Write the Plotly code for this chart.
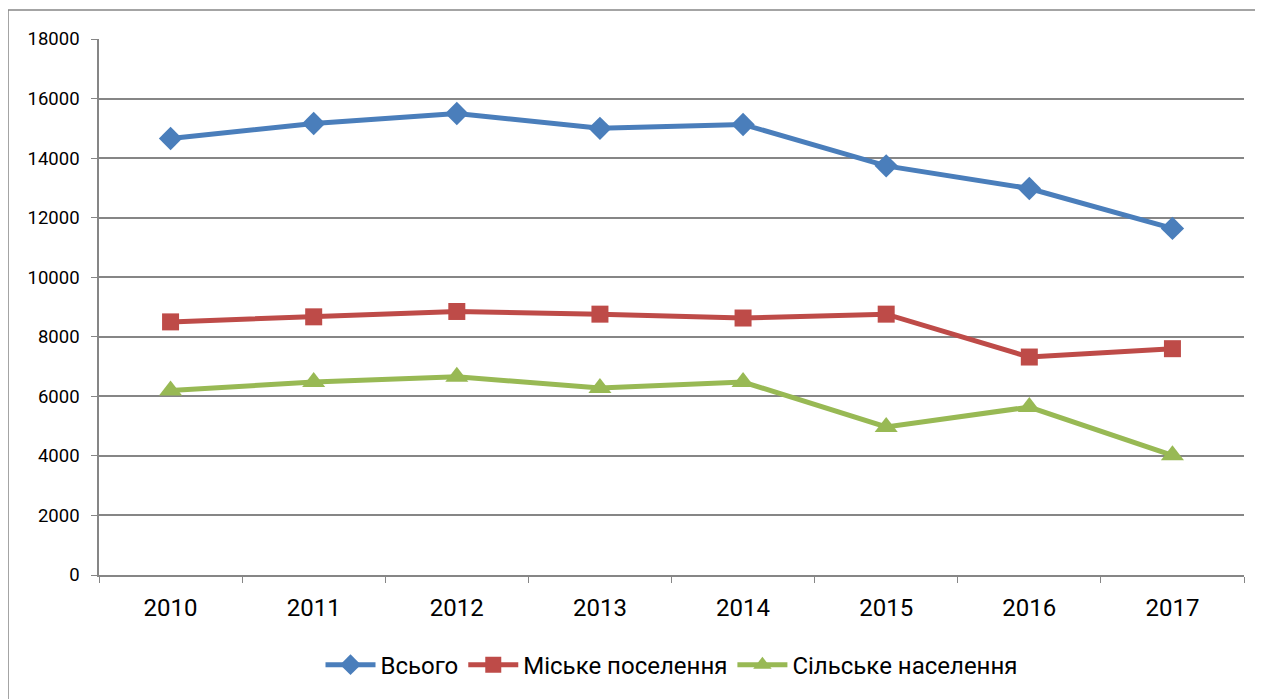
import plotly.graph_objects as go

years = ["2010", "2011", "2012", "2013", "2014", "2015", "2016", "2017"]
total = [14660, 15160, 15500, 15000, 15130, 13740, 12980, 11640]
urban = [8500, 8670, 8850, 8760, 8630, 8760, 7320, 7600]
rural = [6200, 6480, 6660, 6280, 6480, 4970, 5640, 4020]

names = ["Всього", "Міське поселення", "Сільське населення"]
colors = ["#4A7EBB", "#BE4B48", "#98B954"]
symbols = ["diamond", "square", "triangle-up"]
sizes = [18, 17, 20]

fig = go.Figure()
for vals, name, col, sym, sz in zip([total, urban, rural], names, colors, symbols, sizes):
    fig.add_trace(go.Scatter(
        x=years, y=vals, name=name, mode="lines+markers",
        line=dict(color=col, width=5),
        marker=dict(symbol=sym, size=sz, color=col),
    ))

W, H = 1255, 691
fig.update_layout(
    width=W, height=H,
    margin=dict(l=91, r=W - (1244 - 8), t=31, b=H - (575 - 8), autoexpand=False),
    paper_bgcolor="white", plot_bgcolor="white",
    font=dict(family="Roboto", color="black"),
    showlegend=True,
    legend=dict(orientation="h", x=0.5, xanchor="center", y=-0.168, yanchor="middle",
                font=dict(size=24), itemwidth=50, traceorder="normal"),
    xaxis=dict(type="category", tickson="boundaries", ticks="outside", ticklen=6,
               tickcolor="#868686", showgrid=False, showline=True, linecolor="#868686",
               linewidth=1.5, tickfont=dict(size=24), range=[-0.5, 7.5], ticklabelstandoff=10,
               automargin=False),
    yaxis=dict(range=[0, 18000], dtick=2000, ticks="outside", ticklen=6, tickcolor="#868686",
               showgrid=True, gridcolor="#868686", gridwidth=1.5, showline=True,
               linecolor="#868686", linewidth=1.5, tickfont=dict(size=18.5), zeroline=False,
               tickformat="d", ticklabelstandoff=8, automargin=False),
    shapes=[dict(type="rect", xref="paper", yref="paper",
                 x0=(8 - 99) / 1145, x1=1.2, y0=-0.3, y1=(575 - 10) / 536,
                 line=dict(color="#868686", width=1.5), fillcolor="rgba(0,0,0,0)", layer="below")],
)

fig.write_html("out.html")
